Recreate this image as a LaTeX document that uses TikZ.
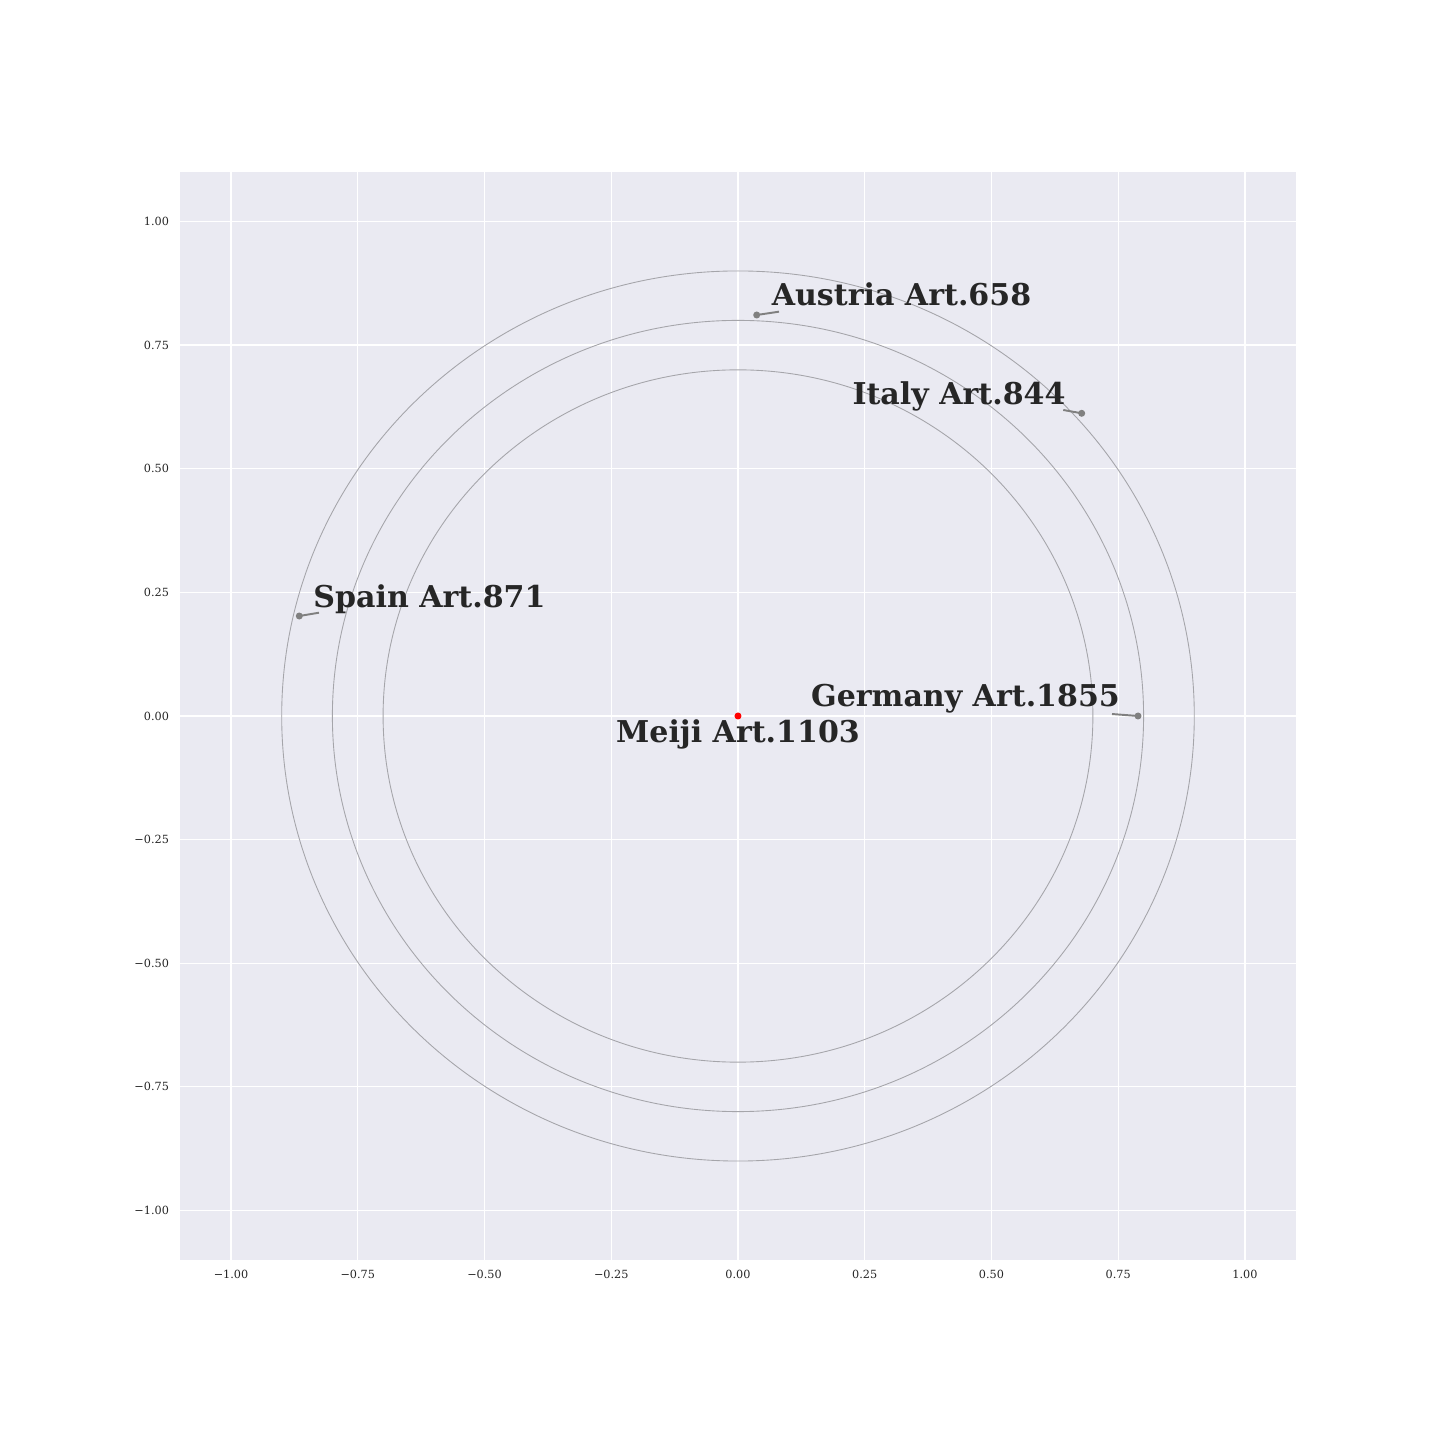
\documentclass[tikz,border=0pt]{standalone}
\usepackage{fontspec}
\setmainfont{DejaVu Serif}
\usepackage{tikz}

\definecolor{axbg}{HTML}{EAEAF2}
\definecolor{ink}{HTML}{262626}
\definecolor{ring}{RGB}{165,165,170}

\tikzset{
  ticklab/.style={inner sep=0pt, text=ink, font=\fontsize{6.4}{8}\selectfont},
  country/.style={anchor=base, inner sep=0pt, text=ink, font=\fontsize{17.1}{20}\selectfont\bfseries},
  pin/.style={draw=gray, line width=1.1pt},
  dot/.style={fill=gray}
}

\begin{document}
\begin{tikzpicture}[x=10.14cm, y=9.89cm]
        \useasboundingbox (-1.4556,-1.4641) rectangle (1.3846,1.4479);
        \fill[axbg] (-1.1,-1.1) rectangle (1.1,1.1);
        
        % grid and ticks
        \foreach \v/\t in {-1/{−1.00},-0.75/{−0.75},-0.5/{−0.50},-0.25/{−0.25},0/{0.00},0.25/{0.25},0.5/{0.50},0.75/{0.75},1/{1.00}} {
            \draw[white, line width=0.7pt] (\v,-1.1) -- (\v,1.1);
            \draw[white, line width=0.7pt] (-1.1,\v) -- (1.1,\v);
            \node[ticklab, anchor=north] at ([yshift=-0.19cm]\v,-1.1) {\t};
            \node[ticklab, anchor=east] at ([xshift=-0.22cm]-1.1,\v) {\t};
        }
        
        % rings
        \foreach \r in {0.7,0.8,0.9}
            \draw[ring, line width=0.5pt] (0,0) ellipse ({\r} and {\r});
        
        \coordinate (M) at (0,0);
        \coordinate (A) at (0.0369,0.8109);
        \coordinate (I) at (0.6779,0.6121);
        \coordinate (S) at (-0.8653,0.2022);
        \coordinate (G) at (0.7890,0);
        
        \coordinate (Aend) at (0.0809,0.8176);
        \coordinate (Iend) at (0.6416,0.6188);
        \coordinate (Send) at (-0.8264,0.2089);
        \coordinate (Gend) at (0.7377,0.0040);
        
        \draw[pin] (A) -- (Aend);
        \draw[pin] (I) -- (Iend);
        \draw[pin] (S) -- (Send);
        \draw[pin] (G) -- (Gend);
        
        \fill[dot] (A) circle (0.07cm);
        \fill[dot] (I) circle (0.07cm);
        \fill[dot] (S) circle (0.07cm);
        \fill[dot] (G) circle (0.07cm);
        \fill[red] (M) circle (0.07cm);
        
        \node[country] (meiji) at (0,-0.0546) {Meiji Art.1103};
        \node[country] (austria) at (0.3225,0.8311) {Austria Art.658};
        \node[country] (italy) at (0.4359,0.6303) {Italy Art.844};
        \node[country] (spain) at (-0.6085,0.2198) {Spain Art.871};
        \node[country] (germany) at (0.4487,0.0182) {Germany Art.1855};
    \end{tikzpicture}
\end{document}
